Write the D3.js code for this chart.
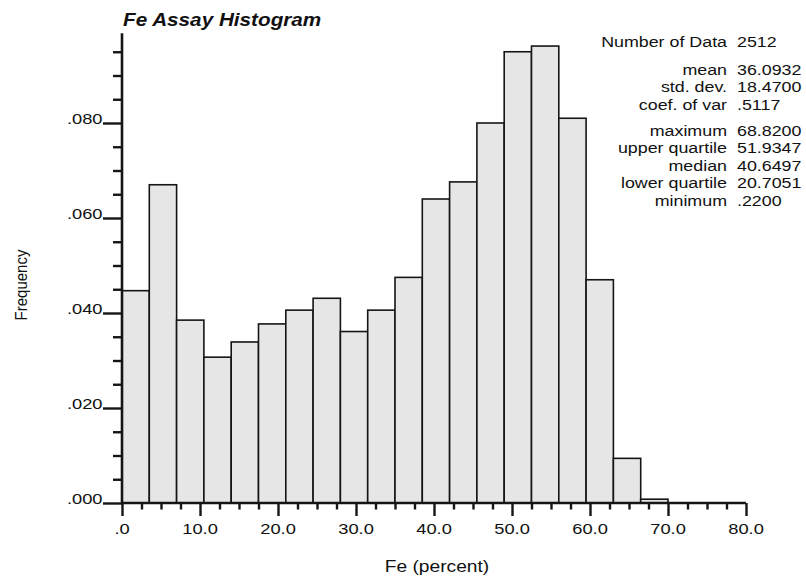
<!DOCTYPE html>
<html>
<head>
<meta charset="utf-8">
<script src="https://cdn.jsdelivr.net/npm/d3@7/dist/d3.min.js"></script>
<style>
  html, body { margin: 0; padding: 0; background: #fff; }
  svg text { font-family: "Liberation Sans", Arial, Helvetica, sans-serif; fill: #111; }
</style>
</head>
<body>
<svg id="chart" width="806" height="578"></svg>
<script>
// Fe assay histogram: bin lower bounds (percent Fe) and relative frequencies
const binLow = [0, 3.5, 7, 10.5, 14, 17.5, 21, 24.5, 28, 31.5, 35, 38.5, 42, 45.5, 49, 52.5, 56, 59.5, 63, 66.5];
const binWidth = 3.5;
const frequency = [0.0447, 0.0670, 0.0385, 0.0307, 0.0339, 0.0377, 0.0406, 0.0431, 0.0361, 0.0406,
                   0.0475, 0.0640, 0.0676, 0.0800, 0.0950, 0.0962, 0.0810, 0.0470, 0.0094, 0.0008];

// axis ticks
const xMajorTicks = [0, 10, 20, 30, 40, 50, 60, 70, 80];
const xMajorLabels = [".0", "10.0", "20.0", "30.0", "40.0", "50.0", "60.0", "70.0", "80.0"];
const xMinorTicks = [2.5, 5, 7.5, 12.5, 15, 17.5, 22.5, 25, 27.5, 32.5, 35, 37.5, 42.5, 45, 47.5,
                     52.5, 55, 57.5, 62.5, 65, 67.5, 72.5, 75, 77.5];
const yMajorTicks = [0, 0.02, 0.04, 0.06, 0.08];
const yMajorLabels = [".000", ".020", ".040", ".060", ".080"];
const yMinorTicks = [0.005, 0.01, 0.015, 0.025, 0.03, 0.035, 0.045, 0.05, 0.055,
                     0.065, 0.07, 0.075, 0.085, 0.09, 0.095];

// summary statistics block
const statLabels = ["Number of Data", "mean", "std. dev.", "coef. of var", "maximum",
                    "upper quartile", "median", "lower quartile", "minimum"];
const statValues = ["2512", "36.0932", "18.4700", ".5117", "68.8200",
                    "51.9347", "40.6497", "20.7051", ".2200"];

const title = "Fe Assay Histogram";
const xTitle = "Fe (percent)";
const yTitle = "Frequency";

const svg = d3.select("#chart");

const x = d3.scaleLinear().domain([0, 80]).range([122, 746]);
const y = d3.scaleLinear().domain([0, 0.08]).range([503, 123]);
const yTop = 0.0989;

const ink = "#151515";

// text with a slight horizontal stretch
function stretchedText(g, tx, ty, str, opts) {
  const t = g.append("text")
    .attr("transform", `translate(${tx},${ty}) scale(${opts.sx},1)` + (opts.rotate ? ` rotate(${opts.rotate})` : ""))
    .attr("text-anchor", opts.anchor || "start")
    .style("font-size", opts.size + "px")
    .text(str);
  if (opts.weight) t.style("font-weight", opts.weight);
  if (opts.italic) t.style("font-style", "italic");
  return t;
}

// bars
svg.append("g").selectAll("rect")
  .data(frequency)
  .join("rect")
  .attr("x", (d, i) => x(binLow[i]))
  .attr("width", (d, i) => x(binLow[i] + binWidth) - x(binLow[i]))
  .attr("y", d => y(d))
  .attr("height", d => y(0) - y(d))
  .attr("fill", "#e6e6e6")
  .attr("stroke", ink)
  .attr("stroke-width", 1.6);

// y axis: line, major and minor ticks
const yAxisMajor = d3.axisLeft(y).tickValues(yMajorTicks).tickSize(19).tickFormat("");
const yAxisMinor = d3.axisLeft(y).tickValues(yMinorTicks).tickSize(9).tickFormat("");
const gy = svg.append("g").attr("transform", `translate(${x(0)},0)`);
gy.call(yAxisMajor);
gy.append("g").call(yAxisMinor);
gy.selectAll(".domain").remove();
gy.selectAll("line").attr("stroke", ink).attr("stroke-width", 2.4);
gy.append("line")
  .attr("x1", 0).attr("x2", 0)
  .attr("y1", y(yTop)).attr("y2", y(0))
  .attr("stroke", ink).attr("stroke-width", 2.6);

yMajorTicks.forEach((v, i) => {
  stretchedText(svg, 102.5, y(v) + 0.5, yMajorLabels[i], { size: 15, sx: 1.22, anchor: "end" });
});

// x axis: line, major and minor ticks
const xAxisMajor = d3.axisBottom(x).tickValues(xMajorTicks).tickSize(13).tickFormat("");
const xAxisMinor = d3.axisBottom(x).tickValues(xMinorTicks).tickSize(6.5).tickFormat("");
const gx = svg.append("g").attr("transform", `translate(0,${y(0)})`);
gx.call(xAxisMajor);
gx.append("g").call(xAxisMinor);
gx.selectAll(".domain").remove();
gx.selectAll("line").attr("stroke", ink).attr("stroke-width", 2.4);
gx.append("line")
  .attr("x1", x(0)).attr("x2", x(80))
  .attr("y1", 0).attr("y2", 0)
  .attr("stroke", ink).attr("stroke-width", 2.6);

xMajorTicks.forEach((v, i) => {
  stretchedText(svg, x(v), 534, xMajorLabels[i], { size: 15, sx: 1.22, anchor: "middle" });
});

// titles
stretchedText(svg, 123, 26, title, { size: 18.5, sx: 1.12, weight: "bold", italic: true });
stretchedText(svg, 437, 572, xTitle, { size: 16, sx: 1.2, anchor: "middle" });
stretchedText(svg, 27, 285, yTitle, { size: 15, sx: 1.15, anchor: "middle", rotate: -90 });

// statistics: right-aligned names, left-aligned values
const statY = [47, 74.5, 92, 109.5, 135.5, 153, 170.5, 188, 205.5];
statLabels.forEach((s, i) => {
  stretchedText(svg, 727, statY[i], s, { size: 15, sx: 1.19, anchor: "end" });
  stretchedText(svg, 737, statY[i], statValues[i], { size: 15, sx: 1.19, anchor: "start" });
});
</script>
</body>
</html>
